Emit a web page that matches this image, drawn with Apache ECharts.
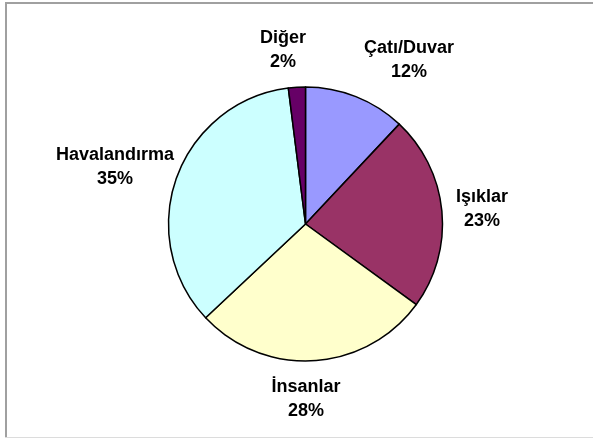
<!DOCTYPE html>
<html>
<head>
<meta charset="utf-8">
<script src="https://cdn.jsdelivr.net/npm/echarts@6/dist/echarts.min.js"></script>
<style>
  html, body { margin: 0; padding: 0; background: #fff; }
  #chart { width: 593px; height: 438px; }
</style>
</head>
<body>
<div id="chart"></div>
<script>
const categories = ['Çatı/Duvar', 'Işıklar', 'İnsanlar', 'Havalandırma', 'Diğer'];
const values = [12, 23, 28, 35, 2];
const colors = ['#9999FF', '#993366', '#FFFFCC', '#CCFFFF', '#660066'];
// label centre positions (layout only)
const labelPos = [[409, 60], [482, 209], [306, 399], [115, 167], [283, 50]];

const chart = echarts.init(document.getElementById('chart'), null, { renderer: 'canvas' });
chart.setOption({
  backgroundColor: '#ffffff',
  animation: false,
  graphic: [
    { type: 'line', shape: { x1: 6, y1: 3, x2: 6, y2: 437 }, style: { stroke: '#a0a0a0', lineWidth: 2 } },
    { type: 'line', shape: { x1: 5, y1: 3, x2: 593, y2: 3 }, style: { stroke: '#a0a0a0', lineWidth: 2 } },
    { type: 'line', shape: { x1: 5, y1: 437.5, x2: 593, y2: 437.5 }, style: { stroke: '#dcdcdc', lineWidth: 1 } }
  ],
  series: [{
    type: 'pie',
    center: [305.5, 224],
    radius: 137,
    startAngle: 90,
    clockwise: true,
    data: categories.map((c, i) => ({ name: c, value: values[i], itemStyle: { color: colors[i] } })),
    itemStyle: { borderColor: '#000', borderWidth: 1.5 },
    label: {
      show: true,
      position: 'outside',
      formatter: '{b}\n{c}%',
      fontFamily: 'Liberation Sans, Arial, sans-serif',
      fontWeight: 'bold',
      fontSize: 18,
      lineHeight: 24,
      color: '#000',
      align: 'center',
      overflow: 'none',
      edgeDistance: 0
    },
    labelLine: { show: false },
    labelLayout: function (params) {
      const p = labelPos[params.dataIndex];
      return { x: p[0], y: p[1], width: 200, align: 'center', verticalAlign: 'middle' };
    },
    emphasis: { disabled: true }
  }]
});
</script>
</body>
</html>
